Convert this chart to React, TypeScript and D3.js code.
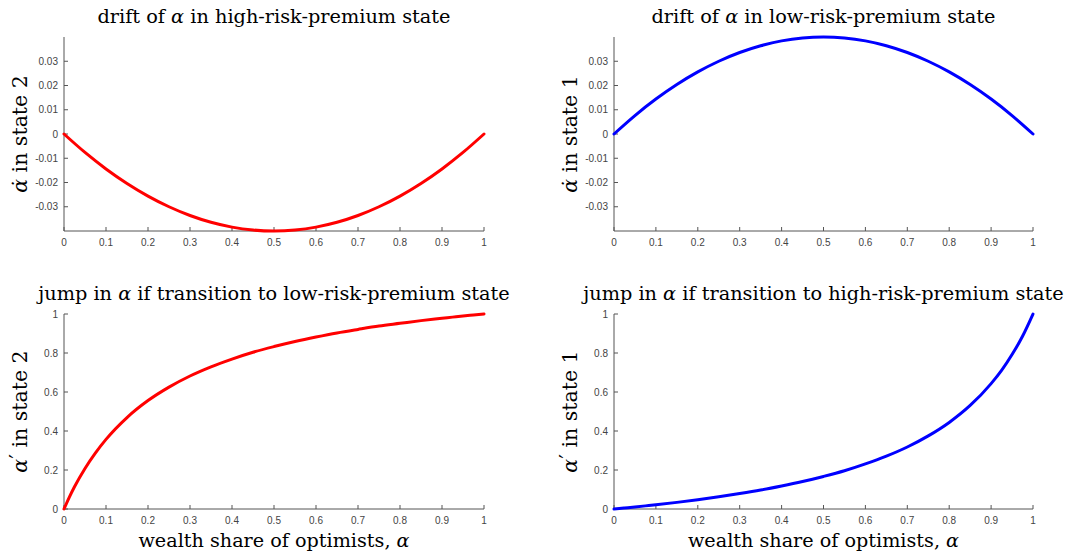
import React from "react";
import * as d3 from "d3";

const alphaGrid = [0, 0.05, 0.1, 0.15, 0.2, 0.25, 0.3, 0.35, 0.4, 0.45, 0.5, 0.55, 0.6, 0.65, 0.7, 0.75, 0.8, 0.85, 0.9, 0.95, 1];
const driftState2 = [0, -0.0076, -0.0144, -0.0204, -0.0256, -0.03, -0.0336, -0.0364, -0.0384, -0.0396, -0.04, -0.0396, -0.0384, -0.0364, -0.0336, -0.03, -0.0256, -0.0204, -0.0144, -0.0076, 0];
const driftState1 = [0, 0.0076, 0.0144, 0.0204, 0.0256, 0.03, 0.0336, 0.0364, 0.0384, 0.0396, 0.04, 0.0396, 0.0384, 0.0364, 0.0336, 0.03, 0.0256, 0.0204, 0.0144, 0.0076, 0];

const alphaGridJump = [0, 0.0125, 0.025, 0.05, 0.075, 0.1, 0.15, 0.2, 0.25, 0.3, 0.35, 0.4, 0.45, 0.5, 0.55, 0.6, 0.65, 0.7, 0.75, 0.8, 0.85, 0.9, 0.925, 0.95, 0.975, 1];
const jumpState2 = [0, 0.06, 0.114, 0.208, 0.288, 0.357, 0.469, 0.556, 0.625, 0.682, 0.729, 0.769, 0.804, 0.833, 0.859, 0.882, 0.903, 0.921, 0.938, 0.952, 0.966, 0.978, 0.984, 0.99, 0.995, 1];
const jumpState1 = [0, 0.0025, 0.0051, 0.0104, 0.016, 0.0217, 0.034, 0.0476, 0.0625, 0.079, 0.097, 0.118, 0.141, 0.167, 0.196, 0.231, 0.271, 0.318, 0.375, 0.444, 0.531, 0.643, 0.711, 0.792, 0.886, 1];

const xTicks = [0, 0.1, 0.2, 0.3, 0.4, 0.5, 0.6, 0.7, 0.8, 0.9, 1];
const driftTicks = [-0.03, -0.02, -0.01, 0, 0.01, 0.02, 0.03];
const jumpTicks = [0, 0.2, 0.4, 0.6, 0.8, 1];

type PanelProps = {
  x0: number; x1: number; y0: number; y1: number;
  xs: number[]; ys: number[]; yDomain: [number, number]; yTicks: number[];
  color: string; title: React.ReactNode; ylab: React.ReactNode; xlab?: boolean;
};

const serif = "'DejaVu Serif', serif";
const sans = "'Liberation Sans', Arial, sans-serif";
const axisColor = "#555";
const tickColor = "#444";

function Panel(p: PanelProps) {
  const xs = d3.scaleLinear().domain([0, 1]).range([p.x0, p.x1]);
  const ys = d3.scaleLinear().domain(p.yDomain).range([p.y1, p.y0]);
  const line = d3.line<number>().x((d, i) => xs(p.xs[i])).y((d) => ys(d)).curve(d3.curveMonotoneX);
  const fmt = (v: number) => (Math.abs(v) < 1e-12 ? "0" : String(+v.toFixed(4)));
  const cx = (p.x0 + p.x1) / 2;
  const cy = (p.y0 + p.y1) / 2;
  return (
    <g>
      <text x={cx} y={p.y0 - 14} textAnchor="middle" fontFamily={serif} fontSize={19.3} fill="#000">{p.title}</text>
      <text transform={`translate(${p.x0 - 37},${cy}) rotate(-90)`} textAnchor="middle" fontFamily={serif} fontSize={20.5} fill="#000">{p.ylab}</text>
      {p.xlab && (
        <text x={cx} y={p.y1 + 38} textAnchor="middle" fontFamily={serif} fontSize={19.2} fill="#000">
          wealth share of optimists, <tspan fontStyle="italic">α</tspan>
        </text>
      )}
      <line x1={p.x0} x2={p.x1} y1={p.y1} y2={p.y1} stroke={axisColor} strokeWidth={1} />
      <line x1={p.x0} x2={p.x0} y1={p.y0} y2={p.y1} stroke={axisColor} strokeWidth={1} />
      {xTicks.map((t) => (
        <g key={"x" + t}>
          <line x1={xs(t)} x2={xs(t)} y1={p.y1} y2={p.y1 - 4} stroke={axisColor} strokeWidth={1} />
          <text x={xs(t)} y={p.y1 + 15} textAnchor="middle" fontFamily={sans} fontSize={10} fill={tickColor}>{fmt(t)}</text>
        </g>
      ))}
      {p.yTicks.map((t) => (
        <g key={"y" + t}>
          <line x1={p.x0} x2={p.x0 + 4} y1={ys(t)} y2={ys(t)} stroke={axisColor} strokeWidth={1} />
          <text x={p.x0 - 6} y={ys(t) + 3.5} textAnchor="end" fontFamily={sans} fontSize={10} fill={tickColor}>{fmt(t)}</text>
        </g>
      ))}
      <path d={line(p.ys) || ""} fill="none" stroke={p.color} strokeWidth={3} strokeLinejoin="round" strokeLinecap="round" />
    </g>
  );
}

const primeLabel = (n: string) => (
  <>
    <tspan fontStyle="italic">α</tspan>
    <tspan fontFamily="'DejaVu Sans', sans-serif" fontSize={21} dy={-2}>′</tspan>
    <tspan dy={2}> in state {n}</tspan>
  </>
);

export default function App() {
  return (
    <svg width={1073} height={556} style={{ position: "absolute", left: 0, top: 0, background: "#fff" }}>
      <rect width={1073} height={556} fill="#fff" />
      <Panel x0={64} x1={484} y0={37} y1={231} xs={alphaGrid} ys={driftState2} yDomain={[-0.04, 0.04]} yTicks={driftTicks}
        color="#ff0000" title={<>drift of <tspan fontStyle="italic">α</tspan> in high-risk-premium state</>}
        ylab={<><tspan fontStyle="italic">α̇</tspan> in state 2</>} />
      <Panel x0={614} x1={1033} y0={37} y1={231} xs={alphaGrid} ys={driftState1} yDomain={[-0.04, 0.04]} yTicks={driftTicks}
        color="#0000ff" title={<>drift of <tspan fontStyle="italic">α</tspan> in low-risk-premium state</>}
        ylab={<><tspan fontStyle="italic">α̇</tspan> in state 1</>} />
      <Panel x0={64} x1={484} y0={314} y1={509} xs={alphaGridJump} ys={jumpState2} yDomain={[0, 1]} yTicks={jumpTicks}
        color="#ff0000" title={<>jump in <tspan fontStyle="italic">α</tspan> if transition to low-risk-premium state</>}
        ylab={primeLabel("2")} xlab />
      <Panel x0={614} x1={1033} y0={314} y1={509} xs={alphaGridJump} ys={jumpState1} yDomain={[0, 1]} yTicks={jumpTicks}
        color="#0000ff" title={<>jump in <tspan fontStyle="italic">α</tspan> if transition to high-risk-premium state</>}
        ylab={primeLabel("1")} xlab />
    </svg>
  );
}
